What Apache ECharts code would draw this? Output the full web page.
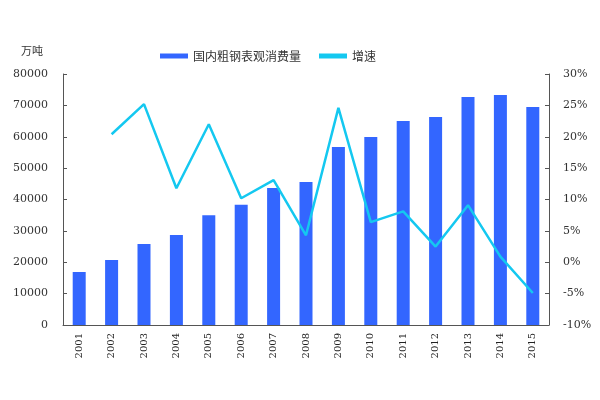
<!DOCTYPE html>
<html><head><meta charset="utf-8">
<script src="https://cdn.jsdelivr.net/npm/echarts@6/dist/echarts.min.js"></script>
<style>html,body{margin:0;padding:0;background:#fff}#c{width:600px;height:400px}</style>
</head><body><div id="c"></div>
<script>
const years = ['2001','2002','2003','2004','2005','2006','2007','2008','2009','2010','2011','2012','2013','2014','2015'];
const consumption = [16900, 20700, 25800, 28700, 35000, 38300, 43700, 45600, 56700, 59900, 65000, 66300, 72700, 73300, 69500];
const growth = [null, 20.4, 25.2, 11.8, 22.0, 10.2, 13.1, 4.3, 24.6, 6.4, 8.1, 2.5, 9.1, 0.9, -4.9];
const leftTicks = [0, 80000, 10000];
const rightTicks = [-10, 30, 5];

const chart = echarts.init(document.getElementById('c'));
const serif = '"DejaVu Serif","Liberation Serif",serif';
chart.setOption({
  animation: false,
  legend: {
    top: 45, left: 155, itemWidth: 28, itemHeight: 5, itemGap: 18,
    textStyle: {fontFamily: '"Noto Sans CJK SC"', fontSize: 12, color: '#333'},
    data: [{name: '国内粗钢表观消费量', icon: 'rect'}, {name: '增速', icon: 'rect'}]
  },
  grid: {left: 63, right: 51, top: 74, bottom: 75},
  xAxis: {
    type: 'category', data: years,
    axisLine: {lineStyle: {color: '#555'}},
    axisTick: {inside: true, length: 3, lineStyle: {color: '#555'}},
    axisLabel: {rotate: 90, fontFamily: serif, fontSize: 10, color: '#222', margin: 8}
  },
  yAxis: [{
    type: 'value', min: leftTicks[0], max: leftTicks[1], interval: leftTicks[2],
    name: '万吨', nameGap: 18, nameTextStyle: {fontFamily: '"Noto Sans CJK SC"', fontSize: 11, color: '#333', align: 'right', padding: [0, 20, 0, 0]},
    axisLine: {show: true, lineStyle: {color: '#555'}},
    axisTick: {show: true, inside: true, length: 4, lineStyle: {color: '#555'}},
    splitLine: {show: false},
    axisLabel: {fontFamily: serif, fontSize: 11, color: '#333', margin: 15, formatter: v => String(v)}
  }, {
    type: 'value', min: rightTicks[0], max: rightTicks[1], interval: rightTicks[2],
    axisLine: {show: true, lineStyle: {color: '#555'}},
    axisTick: {show: true, inside: true, length: 4, lineStyle: {color: '#555'}},
    splitLine: {show: false},
    axisLabel: {fontFamily: serif, fontSize: 11, color: '#333', margin: 14, formatter: '{value}%'}
  }],
  series: [{
    name: '国内粗钢表观消费量', type: 'bar', data: consumption, barWidth: 13,
    itemStyle: {color: '#3366ff'}
  }, {
    name: '增速', type: 'line', yAxisIndex: 1, data: growth, symbol: 'none',
    lineStyle: {color: '#14c8f0', width: 2.5}, itemStyle: {color: '#14c8f0'}
  }]
});
</script></body></html>
